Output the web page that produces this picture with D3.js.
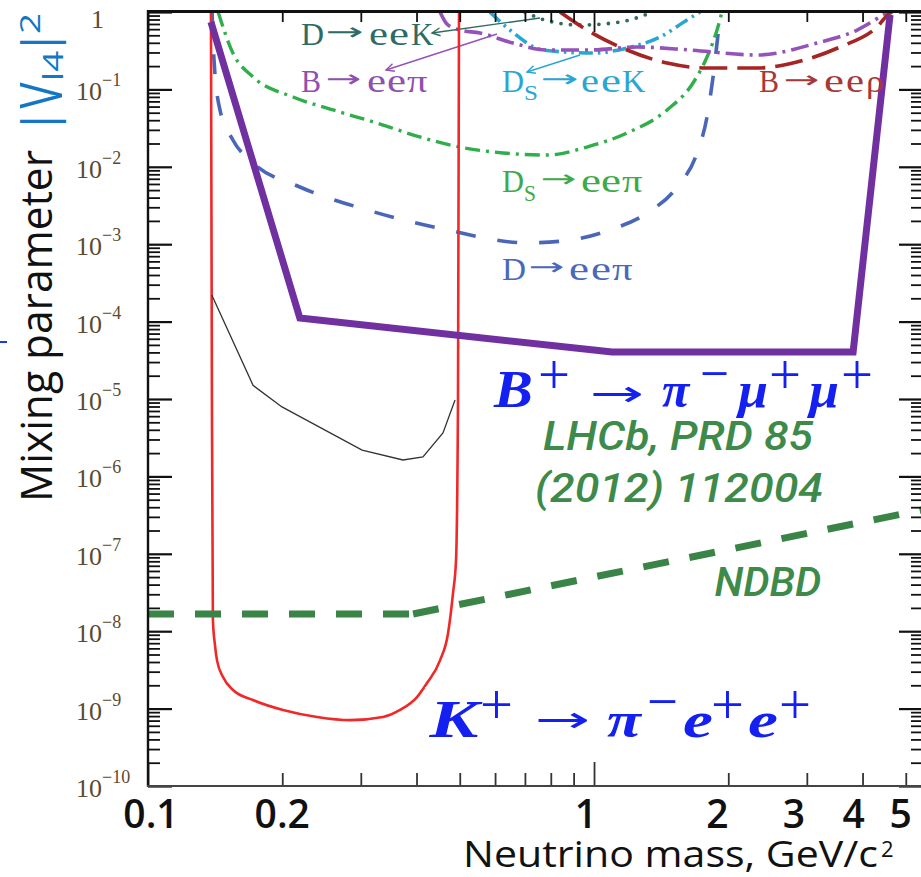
<!DOCTYPE html>
<html><head><meta charset="utf-8">
<script src="https://cdnjs.cloudflare.com/ajax/libs/d3/7.8.5/d3.min.js"></script>
<style>html,body{margin:0;padding:0;background:#fff;overflow:hidden}</style>
</head><body>
<svg id="c" width="921" height="877"></svg>
<script>
// ================= DATA =================
// x axis (neutrino mass, GeV/c^2)
const massTickValues = [0.1, 0.2, 1, 2, 3, 4, 5];
const massTickLabels = ["0.1", "0.2", "1", "2", "3", "4", "5"];
// y axis (|V_l4|^2)
const mixTickExponents = [0, -1, -2, -3, -4, -5, -6, -7, -8, -9, -10];
const mixTickBase = ["1", "10", "10", "10", "10", "10", "10", "10", "10", "10", "10"];
const mixTickSup = ["", "\u22121", "\u22122", "\u22123", "\u22124", "\u22125", "\u22126", "\u22127", "\u22128", "\u22129", "\u221210"];

// K+ -> pi- e+ e+ (red)
const kPiEeMass = [0.1384, 0.1391, 0.1398, 0.1413, 0.1428, 0.1473, 0.1551, 0.1719, 0.2008, 0.2393, 0.2837, 0.3364, 0.3673, 0.401, 0.4222, 0.4516, 0.4708, 0.4829, 0.4905, 0.4955, 0.4981];
const kPiEeU2 = [1, 9.7e-6, 1.4e-8, 6.6e-9, 4.2e-9, 2.56e-9, 1.74e-9, 1.29e-9, 9.6e-10, 7.8e-10, 7.1e-10, 7.8e-10, 9.6e-10, 1.41e-9, 2.14e-9, 4.2e-9, 9.5e-9, 3.1e-8, 8.3e-8, 9.7e-6, 1];
// thin black curve
const blackMass = [0.139, 0.172, 0.1997, 0.302, 0.373, 0.4135, 0.4585, 0.488];
const blackU2 = [2.21e-4, 1.5e-5, 7.9e-6, 2.19e-6, 1.63e-6, 1.78e-6, 3.64e-6, 9.7e-6];
// LHCb B+ -> pi- mu+ mu+ (thick purple)
const lhcbMass = [0.1384, 0.219, 1.098, 3.81, 4.61];
const lhcbU2 = [0.743, 1.11e-4, 4.05e-5, 4.05e-5, 0.915];
// NDBD (green dashed)
const ndbdMass = [0.1, 0.393, 5.437];
const ndbdU2 = [1.67e-8, 1.67e-8, 3.69e-7];
// D -> e e pi (blue dashed)
const dEePiMass = [0.1392, 0.1406, 0.145, 0.155, 0.172, 0.219, 0.310, 0.468, 0.708, 0.884, 1.086, 1.315, 1.535, 1.702, 1.792, 1.849, 1.916, 1.93];
const dEePiU2 = [1, 0.24, 0.0542, 0.0222, 0.0112, 5.48e-3, 2.77e-3, 1.53e-3, 1.04e-3, 1.13e-3, 1.53e-3, 2.53e-3, 5.48e-3, 0.0151, 0.044, 0.145, 0.788, 1];
// Ds -> e e pi (green dash-dot)
const dsEePiMass = [0.1436, 0.155, 0.172, 0.2114, 0.260, 0.326, 0.407, 0.50, 0.625, 0.785, 0.964, 1.186, 1.458, 1.667, 1.792, 1.887, 1.936];
const dsEePiU2 = [1, 0.295, 0.145, 0.0798, 0.0542, 0.0368, 0.0243, 0.018, 0.0151, 0.0142, 0.018, 0.0273, 0.0542, 0.121, 0.262, 0.585, 1];
// D -> e e K (dotted)
const dEeKMass = [0.700, 0.776, 0.930, 1.144, 1.315, 1.35];
const dEeKU2 = [1, 0.788, 0.679, 0.743, 0.94, 1];
// Ds -> e e K (cyan dash-dot-dot)
const dsEeKMass = [0.584, 0.648, 0.768, 0.995, 1.186, 1.406, 1.616, 1.729];
const dsEeKU2 = [1, 0.585, 0.323, 0.295, 0.343, 0.475, 0.788, 1];
// B -> e e pi (violet dash-dot)
const bEePiMass = [0.4516, 0.468, 0.50, 0.555, 0.658, 0.785, 0.979, 1.248, 1.641, 2.32, 3.16, 3.89, 4.45, 4.57];
const bEePiU2 = [1, 0.70, 0.585, 0.535, 0.397, 0.323, 0.323, 0.353, 0.323, 0.278, 0.397, 0.585, 0.915, 1];
// B -> e e rho (dark red dashed)
const bEeRhoMass = [0.839, 0.964, 1.186, 1.458, 1.792, 2.32, 2.85, 3.56, 4.31, 4.61, 4.66];
const bEeRhoU2 = [1, 0.585, 0.323, 0.219, 0.189, 0.189, 0.226, 0.353, 0.64, 0.97, 1];

// ================= LAYOUT =================
const svg = d3.select("#c");
const x = d3.scaleLog().domain([0.1, 5.437]).range([148, 922]);
const y = d3.scaleLog().domain([1e-10, 1]).range([786, 12]);
const zip = (a, b) => a.map((v, i) => [v, b[i]]);
const smooth = d3.line().x(d => x(d[0])).y(d => y(d[1])).curve(d3.curveMonotoneX);
const straight = d3.line().x(d => x(d[0])).y(d => y(d[1]));

svg.append("defs").append("clipPath").attr("id", "plot")
  .append("rect").attr("x", 148).attr("y", 11).attr("width", 774).attr("height", 775);
const gp = svg.append("g").attr("clip-path", "url(#plot)");

const bgSeries = [
  {m: dEePiMass, v: dEePiU2, c: "#4a66b8", w: 3.6, d: "20 22", cap: "butt"},
  {m: dsEePiMass, v: dsEePiU2, c: "#2fae4a", w: 3.4, d: "15 6 3 6", cap: "butt"},
  {m: dEeKMass, v: dEeKU2, c: "#2e6b58", w: 3.8, d: "0 9.5", cap: "round"},
  {m: dsEeKMass, v: dsEeKU2, c: "#27a7d2", w: 3.6, d: "14 5 2.5 5 2.5 5", cap: "butt"},
  {m: bEePiMass, v: bEePiU2, c: "#9552b8", w: 3.6, d: "18 6 3 6", cap: "butt"},
  {m: bEeRhoMass, v: bEeRhoU2, c: "#a52424", w: 3.6, d: "28 10", cap: "butt"}
];
bgSeries.forEach(s => {
  gp.append("path").attr("d", smooth(zip(s.m, s.v))).attr("fill", "none")
    .attr("stroke", s.c).attr("stroke-width", s.w).attr("stroke-dasharray", s.d)
    .attr("stroke-linecap", s.cap);
});

// pointer arrows for small labels
function pointer(x1, y1, x2, y2, color) {
  gp.append("line").attr("x1", x1).attr("y1", y1).attr("x2", x2).attr("y2", y2)
    .attr("stroke", color).attr("stroke-width", 1.4);
  const a = Math.atan2(y1 - y2, x1 - x2), L = 9, s = 0.45;
  gp.append("path").attr("d", `M${x2 + L * Math.cos(a + s)},${y2 + L * Math.sin(a + s)}L${x2},${y2}L${x2 + L * Math.cos(a - s)},${y2 + L * Math.sin(a - s)}`)
    .attr("fill", "none").attr("stroke", color).attr("stroke-width", 1.4);
}
pointer(540, 18, 432, 33, "#2e6b62");
pointer(497, 34, 386, 70, "#9552b8");
pointer(580, 55, 527, 72, "#27a7d2");

// glyph placement: each piece = [text, x0, x1, baseline|null, centerY|null, size, style, weight, family]
const ARW = "\u2192";
const ARW_FONT = "'DejaVu Sans', sans-serif";
function glyphs(parent, pieces, o) {
  const g = parent.append("g").attr("fill", o.color);
  pieces.forEach(p => {
    const [str, x0, x1, base, cy, size0, style, weight, fam0] = p;
    const size = size0 || o.size;
    const isArrow = str === ARW;
    const fam = fam0 || (isArrow ? ARW_FONT : (o.family || "'Liberation Serif', serif"));
    const t = g.append("text").attr("x", 0).attr("y", 0)
      .attr("font-family", fam)
      .attr("font-size", size)
      .attr("font-style", style || o.style || "normal")
      .attr("font-weight", weight || o.weight || "normal")
      .text(str);
    const bb = t.node().getBBox();
    const inkFrac = isArrow ? 0.92 : 1;
    const sx = bb.width > 0 ? (x1 - x0) / (bb.width * inkFrac) : 1;
    const by = base != null ? base : cy + (isArrow ? 0.31 : 0.27) * size;
    const offs = isArrow ? bb.x + bb.width * 0.04 : bb.x;
    t.attr("transform", `translate(${x0 - offs * sx},${by}) scale(${sx},1)`);
  });
}
glyphs(svg, [["D", 301, 324, 45], [ARW, 327, 362, null, 33, 24], ["e", 369, 388, 45, null, 33], ["e", 389, 409, 45, null, 33], ["K", 411, 434, 45]], {color: "#2e6b66", size: 31});
glyphs(svg, [["B", 301, 321, 92], [ARW, 327, 360, null, 80, 24], ["e", 367, 386, 92, null, 33], ["e", 387, 406, 92, null, 33], ["\u03c0", 407, 428, 92]], {color: "#9050b0", size: 31});
glyphs(svg, [["D", 502, 524, 92], ["S", 524, 538, 100, null, 22], [ARW, 542, 577, null, 80, 24], ["e", 581, 599, 92, null, 33], ["e", 601, 621, 92, null, 33], ["K", 622, 646, 92]], {color: "#2aa6d2", size: 31});
glyphs(svg, [["D", 502, 524, 192], ["S", 524, 536, 201, null, 23], [ARW, 542, 575, null, 180, 24], ["e", 581, 601, 192, null, 33], ["e", 601, 621, 192, null, 33], ["\u03c0", 622, 643, 192]], {color: "#3eaa46", size: 31});
glyphs(svg, [["D", 502, 526, 280], [ARW, 530, 563, null, 268, 24], ["e", 569, 589, 280, null, 33], ["e", 591, 611, 280, null, 33], ["\u03c0", 612, 633, 280]], {color: "#4a68bb", size: 31});
glyphs(svg, [["B", 759, 779, 92], [ARW, 785, 818, null, 81, 24], ["e", 824, 844, 92, null, 33], ["e", 846, 864, 92, null, 33], ["\u03c1", 866, 884, 92]], {color: "#a83838", size: 31});

// red K curve, black curve
gp.append("path").attr("d", smooth(zip(kPiEeMass, kPiEeU2))).attr("fill", "none")
  .attr("stroke", "#f02828").attr("stroke-width", 2.6);
gp.append("path").attr("d", straight(zip(blackMass, blackU2))).attr("fill", "none")
  .attr("stroke", "#333").attr("stroke-width", 1.3);

// NDBD dashed: each segment separately
const nd = zip(ndbdMass, ndbdU2);
for (let i = 0; i < nd.length - 1; i++) {
  gp.append("path").attr("d", straight([nd[i], nd[i + 1]])).attr("fill", "none")
    .attr("stroke", "#3b8447").attr("stroke-width", 7).attr("stroke-dasharray", "26 21");
}
// LHCb thick purple
gp.append("path").attr("d", straight(zip(lhcbMass, lhcbU2))).attr("fill", "none")
  .attr("stroke", "#7030a0").attr("stroke-width", 7).attr("stroke-linejoin", "miter");

// ================= AXES =================
const yMajor = mixTickExponents.map(e => Math.pow(10, e));
const yMinor = [];
for (let k = -10; k < 0; k++) for (let j = 2; j <= 9; j++) yMinor.push(j * Math.pow(10, k));
const xMajor = [0.1, 1];
const xMinor = [0.2, 0.3, 0.4, 0.5, 0.6, 0.7, 0.8, 0.9, 2, 3, 4, 5];

function addAxis(axis, tr, color, w) {
  const g = svg.append("g").attr("transform", tr).call(axis);
  g.select(".domain").remove();
  g.selectAll("line").attr("stroke", color).attr("stroke-width", w);
  g.selectAll("text").remove();
}
addAxis(d3.axisLeft(y).tickValues(yMajor).tickSize(-24).tickFormat(""), "translate(148,0)", "#111", 2.2);
addAxis(d3.axisLeft(y).tickValues(yMinor).tickSize(-12).tickFormat(""), "translate(148,0)", "#111", 1.8);
addAxis(d3.axisRight(y).tickValues(yMajor).tickSize(-23).tickFormat(""), "translate(922,0)", "#111", 2.2);
addAxis(d3.axisRight(y).tickValues(yMinor).tickSize(-11).tickFormat(""), "translate(922,0)", "#111", 1.8);
addAxis(d3.axisBottom(x).tickValues(xMajor).tickSize(-24).tickFormat(""), "translate(0,786)", "#333", 1.8);
addAxis(d3.axisBottom(x).tickValues(xMinor).tickSize(-13).tickFormat(""), "translate(0,786)", "#333", 1.8);
addAxis(d3.axisTop(x).tickValues(xMajor).tickSize(-20).tickFormat(""), "translate(0,12)", "#111", 1.8);
addAxis(d3.axisTop(x).tickValues(xMinor).tickSize(-10).tickFormat(""), "translate(0,12)", "#111", 1.8);

svg.append("line").attr("x1", 148).attr("x2", 148).attr("y1", 10).attr("y2", 787).attr("stroke", "#111").attr("stroke-width", 2.4);
svg.append("line").attr("x1", 147).attr("x2", 921).attr("y1", 11.5).attr("y2", 11.5).attr("stroke", "#111").attr("stroke-width", 3);
svg.append("line").attr("x1", 147).attr("x2", 921).attr("y1", 786).attr("y2", 786).attr("stroke", "#444").attr("stroke-width", 2);

// y tick labels
const yLab = svg.append("g").attr("fill", "#5b4a2e").attr("font-family", "'Liberation Serif', serif");
mixTickExponents.forEach((e, i) => {
  const yy = y(Math.pow(10, e));
  if (mixTickSup[i] === "") {
    yLab.append("text").attr("x", 91).attr("y", yy + 16).attr("font-size", 26).text(mixTickBase[i]);
  } else {
    yLab.append("text").attr("x", 76).attr("y", yy + 11).attr("font-size", 26).text(mixTickBase[i]);
    yLab.append("text").attr("x", 102).attr("y", yy - 3).attr("font-size", 18).text(mixTickSup[i]);
  }
});
// x tick labels
const xLabelNudge = [3, 0, -8, -11, -13, -9, -5];
massTickValues.forEach((v, i) => {
  svg.append("text").attr("x", x(v) + xLabelNudge[i]).attr("y", 828).attr("text-anchor", "middle")
    .attr("font-family", "'Open Sans', sans-serif").attr("font-weight", 600).attr("font-size", 39)
    .attr("fill", "#111").text(massTickLabels[i]);
});
// x title
svg.append("text").attr("x", 463).attr("y", 867).attr("font-family", "'Open Sans', sans-serif")
  .attr("font-size", 36).attr("fill", "#111").attr("textLength", 415).attr("lengthAdjust", "spacingAndGlyphs")
  .text("Neutrino mass, GeV/c");
svg.append("text").attr("x", 881).attr("y", 857).attr("font-family", "'Open Sans', sans-serif")
  .attr("font-size", 22).attr("fill", "#111").text("2");

// y title (rotated)
const yt = svg.append("g").attr("transform", "rotate(-90)").attr("font-family", "'Open Sans', sans-serif");
yt.append("text").attr("x", -502).attr("y", 52).attr("font-size", 44).attr("fill", "#111")
  .attr("textLength", 352).attr("lengthAdjust", "spacingAndGlyphs").text("Mixing parameter");
const blueC = "#1476c4";
yt.append("text").attr("x", -134).attr("y", 55).attr("font-size", 46).attr("fill", blueC).text("|");
yt.append("text").attr("x", -108.5).attr("y", 62).attr("font-size", 59).attr("fill", blueC)
  .attr("textLength", 26).attr("lengthAdjust", "spacingAndGlyphs").text("V");
yt.append("text").attr("x", -81).attr("y", 63).attr("font-size", 28).attr("fill", blueC)
  .attr("textLength", 30).attr("lengthAdjust", "spacingAndGlyphs").text("l4");
yt.append("text").attr("x", -55).attr("y", 55).attr("font-size", 46).attr("fill", blueC).text("|");
yt.append("text").attr("x", -34).attr("y", 40).attr("font-size", 28).attr("fill", blueC)
  .attr("textLength", 21).attr("lengthAdjust", "spacingAndGlyphs").text("2");
svg.append("line").attr("x1", 0).attr("x2", 7).attr("y1", 342).attr("y2", 342).attr("stroke", "#1a3af0").attr("stroke-width", 2);

// big math labels
const mathBlue = "#1420f0";
const BI = "'Liberation Serif', serif";
glyphs(svg, [
  ["B", 493, 533, 407, null, 52, "italic", "bold"],
  ["+", 538, 570, null, 378, 58],
  [ARW, 592, 642, null, 395, 36],
  ["\u03c0", 662, 691, 407, null, 50, "italic", "bold"],
  ["\u2212", 700, 729, null, 377, 58],
  ["\u03bc", 735, 768, 407, null, 50, "italic", "bold"],
  ["+", 769, 801, null, 378, 58],
  ["\u03bc", 806, 839, 407, null, 50, "italic", "bold"],
  ["+", 841, 873, null, 378, 58]
], {color: mathBlue, size: 50, family: BI});
svg.append("rect").attr("x", 425).attr("y", 687).attr("width", 390).attr("height", 60).attr("fill", "#fff");
glyphs(svg, [
  ["K", 428, 483, 737, null, 52, "italic", "bold"],
  ["+", 480, 513, null, 708, 58],
  [ARW, 537, 588, null, 721, 36],
  ["\u03c0", 607, 643, 737, null, 50, "italic", "bold"],
  ["\u2212", 647, 678, null, 705, 58],
  ["e", 683, 713, 737, null, 50, "italic", "bold"],
  ["+", 711, 744, null, 708, 58],
  ["e", 748, 778, 737, null, 50, "italic", "bold"],
  ["+", 779, 811, null, 708, 58]
], {color: mathBlue, size: 50, family: BI});

// green italic notes
const greenC = "#3d8a4a";
function note(t, cx, base, w) {
  svg.append("text").attr("x", cx - w / 2).attr("y", base).attr("font-family", "Roboto, sans-serif")
    .attr("font-style", "italic").attr("font-weight", 500).attr("font-size", 40).attr("fill", greenC)
    .attr("textLength", w).attr("lengthAdjust", "spacingAndGlyphs").text(t);
}
note("LHCb, PRD 85", 678, 450, 270);
note("(2012) 112004", 679, 502, 288);
note("NDBD", 768, 596, 107);
</script>
</body></html>
